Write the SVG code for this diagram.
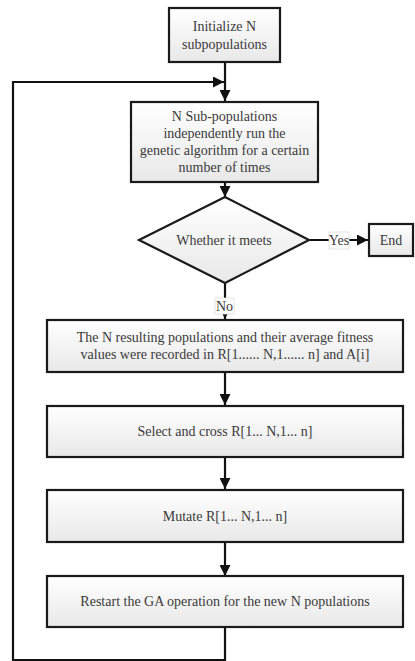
<svg xmlns="http://www.w3.org/2000/svg" width="415" height="661" viewBox="0 0 415 661">
<defs>
<linearGradient id="g" x1="0" y1="0" x2="0" y2="1">
<stop offset="0" stop-color="#ffffff"/>
<stop offset="1" stop-color="#e8e8e8"/>
</linearGradient>
<marker id="ah" viewBox="0 0 10 10" refX="10" refY="5" markerWidth="5" markerHeight="5" orient="auto" markerUnits="strokeWidth">
<path d="M0,0 L10,5 L0,10 z" fill="#111"/>
</marker>
</defs>
<style>
.box{fill:url(#g);stroke:#1a1a1a;stroke-width:2.2}
text{font-family:'Liberation Serif',Tinos,'Times New Roman',serif;font-size:14px;fill:#3a3a3a;text-anchor:middle}
.c{fill:none;stroke:#111;stroke-width:2.2}
.lb{fill:#fff;stroke:#ddd;stroke-width:0.8}
</style>
<g id="connectors">
<line class="c" x1="225" y1="62" x2="225" y2="101" marker-end="url(#ah)"/>
<polyline class="c" points="225,542 225,576" marker-end="url(#ah)"/>
<polyline class="c" points="225,627 225,660 13,660 13,82 224,82" marker-end="url(#ah)"/>
<line class="c" x1="225" y1="182" x2="225" y2="197" marker-end="url(#ah)"/>
<line class="c" x1="309" y1="240" x2="368" y2="240" marker-end="url(#ah)"/>
<line class="c" x1="225" y1="283" x2="225" y2="319" marker-end="url(#ah)"/>
<line class="c" x1="225" y1="372" x2="225" y2="405" marker-end="url(#ah)"/>
<line class="c" x1="225" y1="457" x2="225" y2="489" marker-end="url(#ah)"/>
<rect class="lb" x="329" y="232" width="20" height="17"/>
<text font-family="Liberation Serif, serif" x="339" y="245">Yes</text>
<rect class="lb" x="215" y="298" width="19" height="16"/>
<text font-family="Liberation Serif, serif" x="224.5" y="311">No</text>
</g>
<g id="init" font-family="Liberation Serif, serif">
<rect class="box" x="169" y="8" width="111" height="54"/>
<text x="224.5" y="31">Initialize N</text>
<text x="224.5" y="49">subpopulations</text>
</g>
<g id="run">
<rect class="box" x="131" y="102" width="187" height="80"/>
<text x="224.5" y="121">N Sub-populations</text>
<text x="224.5" y="138">independently run the</text>
<text x="224.5" y="155">genetic algorithm for a certain</text>
<text x="224.5" y="172">number of times</text>
</g>
<g id="decision">
<polygon class="box" points="225,197 309,240 225,283 139,240"/>
<text x="224" y="245">Whether it meets</text>
</g>
<g id="end">
<rect class="box" x="369" y="224" width="44" height="32"/>
<text x="391" y="245">End</text>
</g>
<g id="record">
<rect class="box" x="47" y="320" width="356" height="52"/>
<text x="225" y="342">The N resulting populations and their average fitness</text>
<text x="225" y="359">values were recorded in R[1...... N,1...... n] and A[i]</text>
</g>
<g id="select">
<rect class="box" x="47" y="406" width="356" height="51"/>
<text x="225" y="436">Select and cross R[1... N,1... n]</text>
</g>
<g id="mutate">
<rect class="box" x="47" y="490" width="356" height="52"/>
<text x="225" y="521">Mutate R[1... N,1... n]</text>
</g>
<g id="restart">
<rect class="box" x="47" y="576" width="356" height="51"/>
<text x="225" y="606">Restart the GA operation for the new N populations</text>
</g>
</svg>
